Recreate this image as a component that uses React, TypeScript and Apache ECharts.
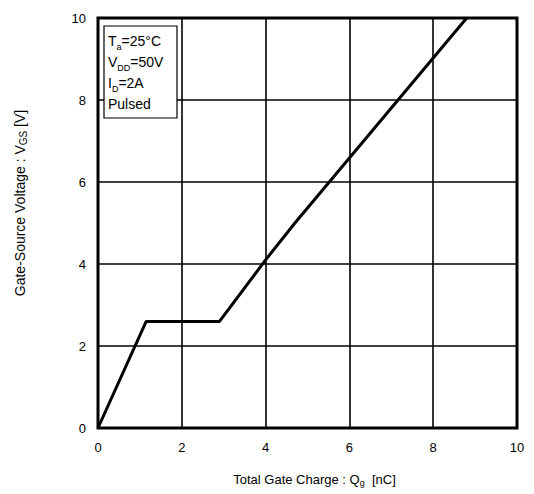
import React, { useEffect, useRef } from "react";
import * as echarts from "echarts";

const qg = [0, 1.15, 2.9, 4.0, 4.7, 8.8];
const vgs = [0, 2.6, 2.6, 4.1, 5.0, 10];
const xTicks = [0, 2, 4, 6, 8, 10];
const yTicks = [0, 2, 4, 6, 8, 10];

export default function App() {
  const ref = useRef<HTMLDivElement>(null);
  useEffect(() => {
    const chart = echarts.init(ref.current!, null, { renderer: "svg" });
    const font = "Liberation Sans, Arial, sans-serif";
    chart.setOption({
      animation: false,
      backgroundColor: "#fff",
      textStyle: { fontFamily: font },
      grid: {
        left: 98, right: 17, top: 18, bottom: 66,
        show: true, borderColor: "#000", borderWidth: 3,
      },
      xAxis: {
        type: "value", min: xTicks[0], max: xTicks[xTicks.length - 1], interval: 2,
        axisLine: { show: false }, axisTick: { show: false },
        splitLine: { lineStyle: { color: "#000", width: 1.6 } },
        axisLabel: { color: "#000", fontSize: 13, margin: 13, fontFamily: font },
        name: "{n|Total Gate Charge : Q}{s|g}{n|  [nC]}",
        nameLocation: "middle", nameGap: 44,
        nameTextStyle: {
          padding: [0, 0, 0, 14],
          rich: {
            n: { fontSize: 13, color: "#000", fontFamily: font },
            s: { fontSize: 9, color: "#000", fontFamily: font, verticalAlign: "bottom", padding: [6, 0, 0, 0] },
          },
        },
      },
      yAxis: {
        type: "value", min: yTicks[0], max: yTicks[yTicks.length - 1], interval: 2,
        axisLine: { show: false }, axisTick: { show: false },
        splitLine: { lineStyle: { color: "#000", width: 1.6 } },
        axisLabel: { color: "#000", fontSize: 13, margin: 12, fontFamily: font },
        name: "{n|Gate-Source Voltage : V}{s|GS}{n| [V]}",
        nameLocation: "middle", nameGap: 70, nameRotate: 90,
        nameTextStyle: {
          padding: [0, 0, 0, 40],
          rich: {
            n: { fontSize: 14, color: "#000", fontFamily: font },
            s: { fontSize: 10, color: "#000", fontFamily: font, verticalAlign: "bottom", padding: [6, 0, 0, 0] },
          },
        },
      },
      series: [
        {
          type: "line",
          data: qg.map((x, i) => [x, vgs[i]]),
          showSymbol: false,
          lineStyle: { color: "#000", width: 3 },
          z: 5,
        },
      ],
      graphic: [
        {
          type: "rect",
          shape: { x: 104, y: 26, width: 73, height: 92 },
          style: { fill: "#fff", stroke: "#000", lineWidth: 1.2 },
          z: 10,
        },
        {
          type: "text",
          x: 108, y: 30,
          z: 11,
          style: {
            text:
              "{n|T}{s|a}{n|=25°C}\n{n|V}{s|DD}{n|=50V}\n{n|I}{s|D}{n|=2A}\n{n|Pulsed}",
            fontFamily: font,
            rich: {
              n: { fontSize: 14, fill: "#000", fontFamily: font, lineHeight: 21 },
              s: { fontSize: 9, fill: "#000", fontFamily: font, lineHeight: 21, verticalAlign: "bottom", padding: [8, 0, 0, 0] },
            },
          },
        },
      ],
    });
    return () => chart.dispose();
  }, []);
  return <div ref={ref} style={{ position: "absolute", left: 0, top: 0, width: 534, height: 494 }} />;
}
